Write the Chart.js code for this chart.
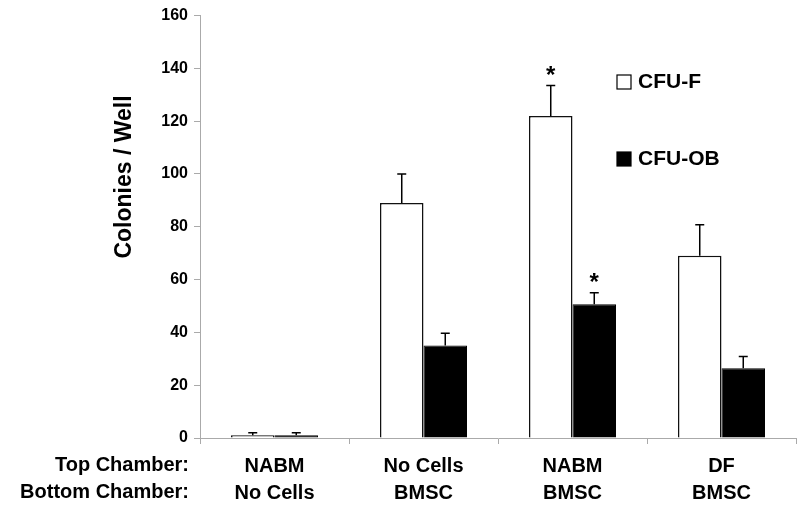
<!DOCTYPE html>
<html>
<head>
<meta charset="utf-8">
<script src="https://cdn.jsdelivr.net/npm/chart.js@4.4.0/dist/chart.umd.min.js"></script>
<style>
  body { margin: 0; background: #fff; }
  #wrap { width: 800px; height: 506px; }
</style>
</head>
<body>
<div id="wrap"><canvas id="myChart" width="800" height="506"></canvas></div>
<script>
const FONT = '"Liberation Sans", Arial, sans-serif';

// data
const groups = [['NABM', 'No Cells'], ['No Cells', 'BMSC'], ['NABM', 'BMSC'], ['DF', 'BMSC']];
const rowLabels = ['Top Chamber:', 'Bottom Chamber:'];
const cfuF = [1, 89, 122, 69];
const cfuFErr = [1, 11, 11.5, 11.8];
const cfuOB = [1, 35, 50.7, 26.4];
const cfuOBErr = [1, 4.7, 4.3, 4.5];
const cfuFStar = [false, false, true, false];
const cfuOBStar = [false, false, true, false];
const yTicks = [0, 20, 40, 60, 80, 100, 120, 140, 160];

const errorBars = {
  id: 'errorBars',
  afterDatasetsDraw(chart) {
    const c = chart.ctx;
    const y = chart.scales.y;
    chart.data.datasets.forEach((ds, di) => {
      const meta = chart.getDatasetMeta(di);
      meta.data.forEach((bar, i) => {
        const top = y.getPixelForValue(ds.data[i] + ds.err[i]);
        c.save();
        c.strokeStyle = '#000';
        c.lineWidth = 1.5;
        c.beginPath();
        c.moveTo(bar.x, bar.y);
        c.lineTo(bar.x, top);
        c.moveTo(bar.x - 4.5, top);
        c.lineTo(bar.x + 4.5, top);
        c.stroke();
        if (ds.star[i]) {
          c.fillStyle = '#000';
          c.font = 'bold 24px ' + FONT;
          c.textAlign = 'center';
          c.textBaseline = 'middle';
          c.fillText('*', bar.x, top - 9);
        }
        c.restore();
      });
    });
  }
};

const extraText = {
  id: 'extraText',
  afterDraw(chart) {
    const c = chart.ctx;
    c.save();
    c.fillStyle = '#000';
    // y title
    c.font = 'bold 23px ' + FONT;
    c.translate(125, 177);
    c.rotate(-Math.PI / 2);
    c.textAlign = 'center';
    c.textBaseline = 'middle';
    c.fillText('Colonies / Well', 0, 0);
    c.restore();

    // row labels
    c.save();
    c.fillStyle = '#000';
    c.font = 'bold 20px ' + FONT;
    c.textAlign = 'right';
    c.textBaseline = 'middle';
    c.fillText(rowLabels[0], 189, 465);
    c.fillText(rowLabels[1], 189, 492);

    // legend
    c.font = 'bold 21px ' + FONT;
    const legendY = [82, 159];
    chart.data.datasets.forEach((ds, di) => {
      const ly = legendY[di];
      c.fillStyle = ds.backgroundColor;
      c.fillRect(617, ly - 7, 14, 14);
      c.strokeStyle = '#000';
      c.lineWidth = 1.2;
      c.strokeRect(617, ly - 7, 14, 14);
      c.fillStyle = '#000';
      c.textAlign = 'left';
      c.fillText(ds.label, 638, ly);
    });
    c.restore();
  }
};

const ctx = document.getElementById('myChart');
new Chart(ctx, {
  type: 'bar',
  data: {
    labels: groups,
    datasets: [{
      label: 'CFU-F',
      data: cfuF,
      err: cfuFErr,
      star: cfuFStar,
      backgroundColor: '#ffffff',
      borderColor: '#111',
      borderWidth: 1.5
    },
    {
      label: 'CFU-OB',
      data: cfuOB,
      err: cfuOBErr,
      star: cfuOBStar,
      backgroundColor: '#000000',
      borderColor: '#000000',
      borderWidth: 1
    }]
  },
  options: {
    responsive: false,
    animation: false,
    categoryPercentage: 0.584,
    barPercentage: 1,
    layout: { padding: { top: 11, right: 4, left: 0, bottom: 0 } },
    plugins: {
      legend: { display: false },
      tooltip: { enabled: false }
    },
    scales: {
      x: {
        grid: { drawOnChartArea: false, offset: true, tickLength: 6, color: '#aaa' },
        border: { color: '#aaa' },
        ticks: {
          color: '#000',
          font: { family: FONT, size: 20, weight: 'bold', lineHeight: 1.35 },
          padding: 9,
          maxRotation: 0
        },
        afterFit(scale) { scale.height = 68; }
      },
      y: {
        min: 0,
        max: 160,
        afterBuildTicks(scale) { scale.ticks = yTicks.map(v => ({ value: v })); },
        grid: { drawOnChartArea: false, tickLength: 6, color: '#aaa' },
        border: { color: '#aaa' },
        ticks: {
          color: '#000',
          font: { family: FONT, size: 16, weight: 'bold' },
          padding: 6
        },
        afterFit(scale) { scale.width = 200; }
      }
    }
  },
  plugins: [errorBars, extraText]
});
</script>
</body>
</html>
